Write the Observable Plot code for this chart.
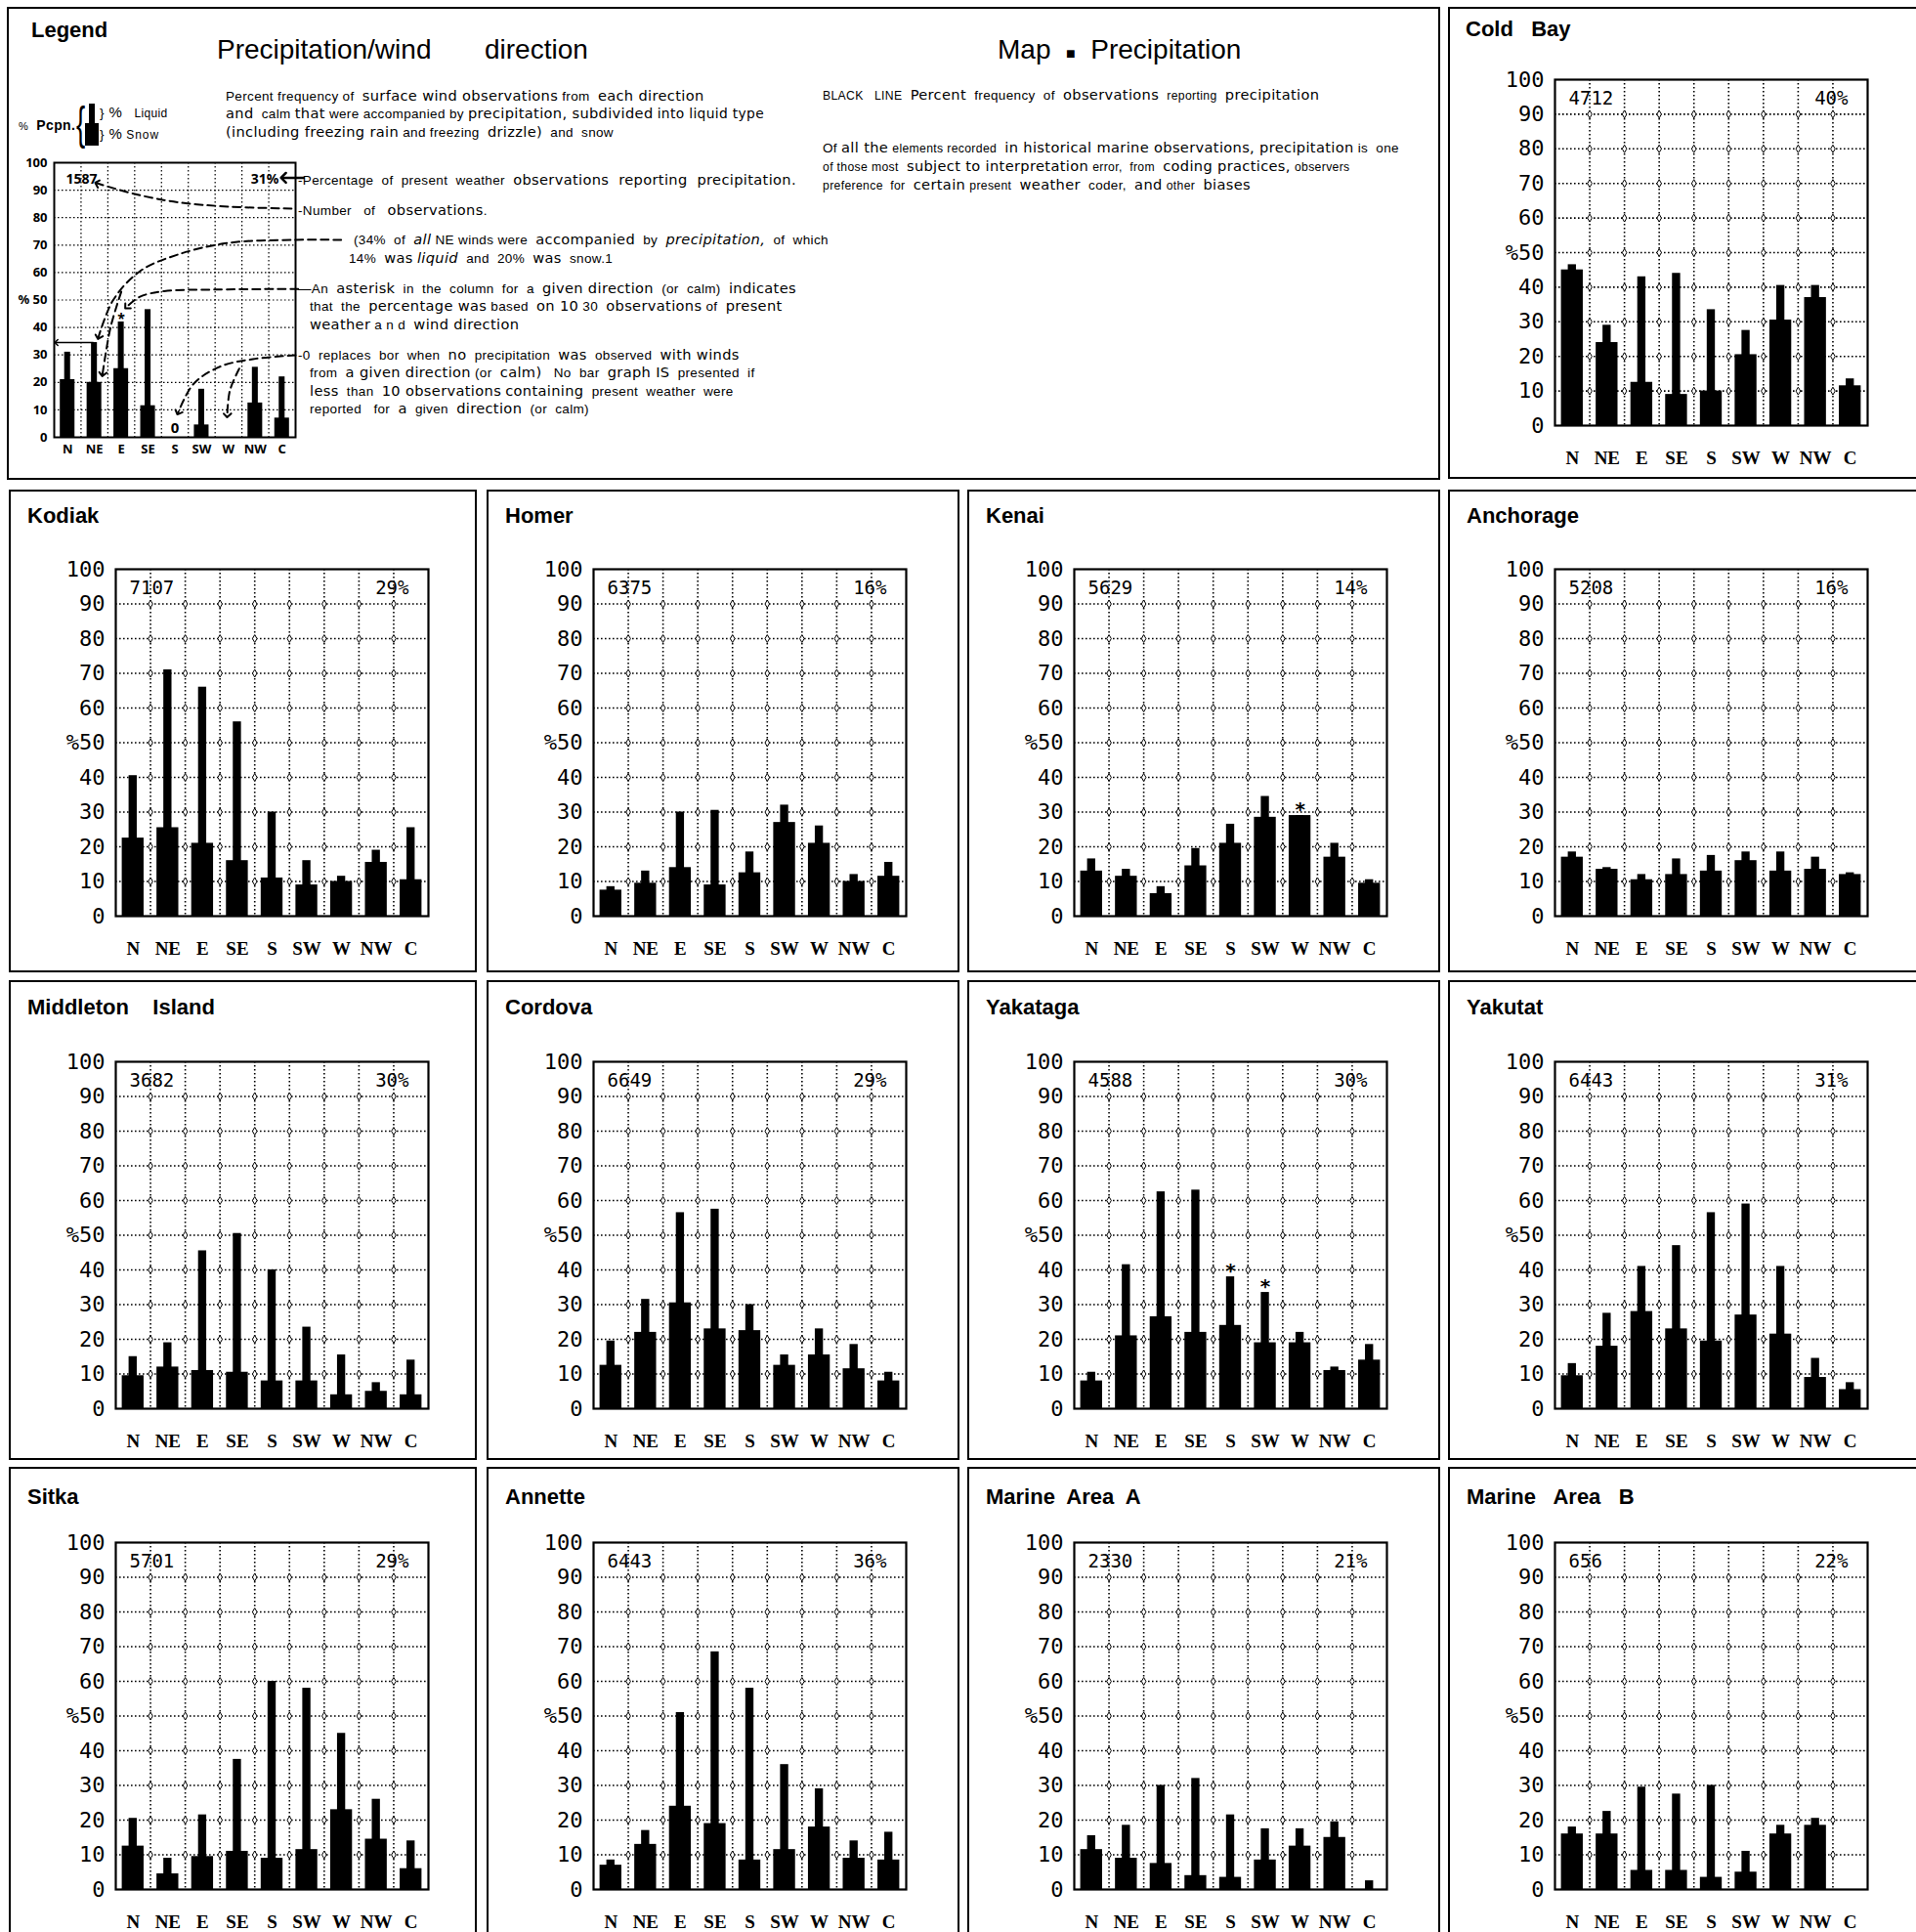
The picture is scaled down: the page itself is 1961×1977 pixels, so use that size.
<!DOCTYPE html>
<html><head><meta charset="utf-8">
<script src="https://cdn.jsdelivr.net/npm/d3@7"></script>
<script src="https://cdn.jsdelivr.net/npm/@observablehq/plot@0.6"></script>
<style>
html,body{margin:0;padding:0;background:#fff;}
#page{position:relative;width:1961px;height:1977px;overflow:hidden;background:#fff;font-family:"Liberation Sans",Arial,sans-serif;color:#000;}
.box{position:absolute;box-sizing:border-box;border:2px solid #000;}
.title{position:absolute;font-weight:bold;font-size:22px;white-space:pre;line-height:24px;}
.chart{position:absolute;}
.t{position:absolute;white-space:pre;line-height:16px;font-size:13.5px;letter-spacing:0.35px;}
.b{font-family:"DejaVu Sans","Liberation Sans",sans-serif;font-size:14.6px;}
.xs{font-size:12.2px;}
.i{font-style:italic;}
</style></head><body><div id="page"></div>
<script>
// ---------- data ----------
const directions = ["N","NE","E","SE","S","SW","W","NW","C"];
const yTicks = [0,10,20,30,40,50,60,70,80,90,100];

// legend example (snow = thick part, total = top of thin part)
const legendSnow  = [21, 20, 25, 11.5, null, 4.5, null, 12.5, 7];
const legendTotal = [31, 34.5, 42, 46.5, null, 17.5, null, 25.5, 22];
const legendZeroDirs = ["S"];
const legendStarDirs = ["E"];
const legendCount = "1587";
const legendPct = "31%";

const coldBaySnow    = [45, 24, 12.5, 9, 10, 20.5, 30.5, 37, 11.5];
const coldBayTotal   = [46.5, 29, 43, 44, 33.5, 27.5, 40.5, 40.5, 13.5];
const kodiakSnow     = [22.5, 25.5, 21, 16, 11, 9, 10, 15.5, 10.5];
const kodiakTotal    = [40.5, 71, 66, 56, 30, 16, 11.5, 19, 25.5];
const homerSnow      = [7.5, 9.5, 14, 9, 12.5, 27, 21, 10, 11.5];
const homerTotal     = [8.5, 13, 30, 30.5, 18.5, 32, 26, 12, 15.5];
const kenaiSnow      = [13, 11.5, 6.5, 14.5, 21, 28.5, 29, 17, 9.5];
const kenaiTotal     = [16.5, 13.5, 8.5, 19.5, 26.5, 34.5, 29, 21, 10.5];
const anchorageSnow  = [17, 13.5, 10.5, 12, 13, 16, 13, 13.5, 12];
const anchorageTotal = [18.5, 14, 12, 16.5, 17.5, 18.5, 18.5, 17, 12.5];
const middletonSnow  = [9.5, 12, 11, 10.5, 8, 8, 4, 5, 4];
const middletonTotal = [15, 19, 45.5, 50.5, 40, 23.5, 15.5, 7.5, 14];
const cordovaSnow    = [12.5, 22, 30.5, 23, 22.5, 12.5, 15.5, 11.5, 8];
const cordovaTotal   = [19.5, 31.5, 56.5, 57.5, 30, 15.5, 23, 18.5, 10.5];
const yakatagaSnow   = [8, 21, 26.5, 22, 24, 19, 19, 11, 14];
const yakatagaTotal  = [10.5, 41.5, 62.5, 63, 38, 33.5, 22, 12, 18.5];
const yakutatSnow    = [9.5, 18, 28, 23, 19.5, 27, 21.5, 9, 5.5];
const yakutatTotal   = [13, 27.5, 41, 47, 56.5, 59, 41, 14.5, 7.5];
const sitkaSnow      = [12.5, 4.5, 9.5, 11, 9, 11.5, 23, 14.5, 6];
const sitkaTotal     = [20.5, 9, 21.5, 37.5, 60, 58, 45, 26, 14];
const annetteSnow    = [7, 13, 24, 19, 8.5, 11.5, 18, 9, 8.5];
const annetteTotal   = [8.5, 17, 51, 68.5, 58, 36, 29, 14, 16.5];
const marineASnow    = [11.5, 9, 7.5, 4, 3.5, 8.5, 12.5, 15, 0];
const marineATotal   = [15.5, 18.5, 30, 32, 21.5, 17.5, 17.5, 19.5, 2.5];
const marineBSnow    = [16, 16, 5.5, 5.5, 3.5, 5, 16, 18.5, null];
const marineBTotal   = [18, 22.5, 29.5, 27.5, 30, 11, 18.5, 20.5, null];

const stationNames = ["Cold   Bay","Kodiak","Homer","Kenai","Anchorage","Middleton    Island","Cordova","Yakataga","Yakutat","Sitka","Annette","Marine  Area  A","Marine   Area   B"];
const obsCounts  = ["4712","7107","6375","5629","5208","3682","6649","4588","6443","5701","6443","2330","656"];
const precipPct  = ["40%","29%","16%","14%","16%","30%","29%","30%","31%","29%","36%","21%","22%"];
const starDirs   = [[],[],[],["W"],[],[],[],["S","SW"],[],[],[],[],[]];
const snowSeries  = [coldBaySnow,kodiakSnow,homerSnow,kenaiSnow,anchorageSnow,middletonSnow,cordovaSnow,yakatagaSnow,yakutatSnow,sitkaSnow,annetteSnow,marineASnow,marineBSnow];
const totalSeries = [coldBayTotal,kodiakTotal,homerTotal,kenaiTotal,anchorageTotal,middletonTotal,cordovaTotal,yakatagaTotal,yakutatTotal,sitkaTotal,annetteTotal,marineATotal,marineBTotal];

// legend annotation leader lines (in chart data units: x = direction slot, y = percent)
const noteNumber = [[8.85,83.3],[6.5,84.0],[4.6,85.6],[3.0,88.6],[1.6,92.5]];
const noteShare  = [[10.7,71.9],[9.0,71.9],[6.5,70.8],[4.6,66.5],[3.2,60.5],[2.2,50],[1.65,36.5]];
const noteShare2 = [[2.5,53],[2.1,40],[1.8,23]];
const noteStar   = [[9.1,54],[6.0,53.8],[4.1,53.2],[3.2,51.2],[2.7,47.5]];
const noteZero   = [[9.0,29.9],[7.5,28.6],[6.2,25.8],[5.2,19.5],[4.62,9]];
const noteZero2  = [[6.9,25],[6.55,17],[6.45,8]];
const noteBox    = [[1.45,34.5],[0.08,34.5]];
const notePct    = [[9.3,94.5],[8.55,94.5]];

// ---------- layout helpers ----------
const page = document.getElementById("page");
function box(l,t,r,b,extra){const d=document.createElement("div");d.className="box";d.style.left=l+"px";d.style.top=t+"px";d.style.width=(r-l)+"px";d.style.height=(b-t)+"px";if(extra)Object.assign(d.style,extra);page.appendChild(d);}
function title(txt,l,cy){const d=document.createElement("div");d.className="title";d.textContent=txt;d.style.left=l+"px";d.style.top=(cy-12)+"px";page.appendChild(d);}
function line(html,l,cy,style){const d=document.createElement("div");d.className="t";d.innerHTML=html;d.style.left=l+"px";d.style.top=(cy-8)+"px";if(style)Object.assign(d.style,style);page.appendChild(d);return d;}
function place(svg,l,t){const w=document.createElement("div");w.className="chart";w.style.left=l+"px";w.style.top=t+"px";w.appendChild(svg);page.appendChild(w);}

const dotted = {stroke:"#000", strokeWidth:1.6, strokeDasharray:"1.6,2.4"};
function gridPts(){const g=[];for(let gx=1;gx<9;gx++)for(let gy=10;gy<100;gy+=10)g.push({gx,gy});return g;}

function stationChart(k, frameH){
  const rows = directions.map((dir,i)=>({dir,i,snow:snowSeries[k][i],total:totalSeries[k][i],star:starDirs[k].includes(dir)}));
  return Plot.plot({
    width:469, height:20+frameH+50, marginLeft:109, marginRight:40, marginTop:20, marginBottom:50,
    x:{domain:[0,9], axis:null}, y:{domain:[0,100], axis:null},
    style:{background:"transparent", overflow:"visible"},
    marks:[
      Plot.ruleY(yTicks.filter(v=>v>0&&v<100), dotted),
      Plot.ruleX(d3.range(1,9), dotted),
      Plot.dot(gridPts(), {x:"gx", y:"gy", symbol:"diamond", r:2.4, fill:"#fff", stroke:"#000", strokeWidth:1}),
      Plot.rectY(rows.filter(d=>d.total!=null), {x1:"i", x2:d=>d.i+1, y:"total", insetLeft:13.6, insetRight:13.6, fill:"#000"}),
      Plot.rectY(rows.filter(d=>d.snow!=null&&d.snow>0), {x1:"i", x2:d=>d.i+1, y:"snow", insetLeft:6.6, insetRight:6.6, fill:"#000"}),
      Plot.text(rows.filter(d=>d.star), {x:d=>d.i+0.5, y:"total", dy:-6, text:()=>"*", fontSize:20, fontWeight:"bold", fontFamily:"DejaVu Sans"}),
      Plot.frame({stroke:"#000", strokeWidth:2.2}),
      Plot.text(yTicks, {x:()=>0, y:d=>d, text:d=>d===50?"%50":String(d), textAnchor:"end", dx:-11, fontSize:22, fontFamily:"DejaVu Sans Mono"}),
      Plot.text(rows, {x:d=>d.i+0.5, y:()=>0, text:"dir", dy:33, fontSize:19, fontWeight:"bold", fontFamily:"Liberation Serif"}),
      Plot.text([obsCounts[k]], {x:()=>0, y:()=>100, text:d=>d, textAnchor:"start", dx:14, dy:19, fontSize:19, fontFamily:"DejaVu Sans Mono"}),
      Plot.text([precipPct[k]], {x:()=>9, y:()=>100, text:d=>d, textAnchor:"end", dx:-20, dy:19, fontSize:19, fontFamily:"DejaVu Sans Mono"})
    ]
  });
}

function legendChart(){
  const rows = directions.map((dir,i)=>({dir,i,snow:legendSnow[i],total:legendTotal[i]}));
  const lead = {x:d=>d[0], y:d=>d[1], curve:"catmull-rom", stroke:"#000", strokeWidth:2, strokeDasharray:"8,5"};
  return Plot.plot({
    width:360, height:20+281+25, marginLeft:48, marginRight:65, marginTop:20, marginBottom:25,
    x:{domain:[0,9], axis:null}, y:{domain:[0,100], axis:null},
    style:{background:"transparent", overflow:"visible"},
    marks:[
      Plot.ruleY(yTicks.filter(v=>v>0&&v<100), {x1:0, x2:9, stroke:"#000", strokeWidth:1.2, strokeDasharray:"1.5,2.5"}),
      Plot.ruleX(d3.range(1,9), {stroke:"#000", strokeWidth:1.2, strokeDasharray:"1.5,2.5"}),
      Plot.rectY(rows.filter(d=>d.total!=null), {x1:"i", x2:d=>d.i+1, y:"total", insetLeft:10.7, insetRight:10.7, fill:"#000"}),
      Plot.rectY(rows.filter(d=>d.snow!=null), {x1:"i", x2:d=>d.i+1, y:"snow", insetLeft:6.2, insetRight:6.2, fill:"#000"}),
      Plot.text(rows.filter(d=>legendZeroDirs.includes(d.dir)), {x:d=>d.i+0.5, y:()=>0, dy:-9, text:()=>"0", fontSize:15, fontWeight:"bold"}),
      Plot.text(rows.filter(d=>legendStarDirs.includes(d.dir)), {x:d=>d.i+0.5, y:"total", dy:-3, text:()=>"*", fontSize:14, fontWeight:"bold"}),
      Plot.line(noteNumber, {...lead, markerEnd:"arrow"}),
      Plot.line(noteShare, {...lead, markerEnd:"arrow"}),
      Plot.line(noteShare2, {...lead, markerEnd:"arrow"}),
      Plot.line(noteStar, {...lead, markerEnd:"arrow"}),
      Plot.line(noteZero, {...lead, markerEnd:"arrow"}),
      Plot.line(noteZero2, {...lead, markerEnd:"arrow"}),
      Plot.line(noteBox, {x:d=>d[0], y:d=>d[1], stroke:"#000", strokeWidth:1.5, markerEnd:"arrow"}),
      Plot.line(notePct, {x:d=>d[0], y:d=>d[1], stroke:"#000", strokeWidth:2.5, markerEnd:"arrow"}),
      Plot.frame({stroke:"#000", strokeWidth:2}),
      Plot.text(yTicks, {x:()=>0, y:d=>d, text:d=>d===50?"% 50":String(d), textAnchor:"end", dx:-7, fontSize:13, fontWeight:"bold"}),
      Plot.text(rows, {x:d=>d.i+0.5, y:()=>0, text:"dir", dy:12, fontSize:13, fontWeight:"bold"}),
      Plot.text([legendCount], {x:()=>0, y:()=>100, text:d=>d, textAnchor:"start", dx:12, dy:17, fontSize:14, fontWeight:"bold"}),
      Plot.text([legendPct], {x:()=>9, y:()=>100, text:d=>d, textAnchor:"end", dx:-17, dy:17, fontSize:14, fontWeight:"bold"})
    ]
  });
}

// ---------- panels ----------
box(7,7,1474,491);
box(1482,7,1961,490,{borderRight:"none"});
const cols = [[9,488],[498,982],[990,1474],[1482,1961]];
const rowBands = [[501,995],[1003,1494],[1501,1990]];
const frameOff = [81,83,77];
const titleOff = [27,28,31];
rowBands.forEach(([t,b],r)=>cols.forEach(([l,rr],c)=>box(l,t,rr,b,c===3?{borderRight:"none"}:{})));

title(stationNames[0],1500,30);
place(stationChart(0,354),1482,81-20);
for(let r=0;r<3;r++){
  for(let c=0;c<4;c++){
    const k = 1 + r*4 + c;
    const [l] = cols[c]; const [t] = rowBands[r];
    title(stationNames[k], l+19, t+titleOff[r]);
    place(stationChart(k,355), l, t+frameOff[r]-20);
  }
}

// ---------- legend panel ----------
title("Legend",32,31);
line("Precipitation/wind",222,51,{fontSize:"28px",lineHeight:"32px",top:"35px",letterSpacing:"0"});
line("direction",496,51,{fontSize:"28px",lineHeight:"32px",top:"35px",letterSpacing:"0"});
line("Map  <span style='font-size:16px'>■</span>  Precipitation",1021,51,{fontSize:"28px",lineHeight:"32px",top:"35px",letterSpacing:"0"});

line('Percent frequency of  <span class="b">surface wind observations</span> from  <span class="b">each direction</span>',231,98);
line('<span class="b">and</span>  calm <span class="b">that</span> were accompanied by <span class="b">precipitation, subdivided</span> <span class="b" style="font-size:13.8px">into liquid type</span>',231,116);
line('<span class="b">(including freezing rain</span> and freezing  <span class="b">drizzle)</span>  and  snow',231,135);

line('<span class="xs">BLACK   LINE</span>  <span class="b">Percent</span>  frequency  of  <span class="b">observations</span>  <span class="xs">reporting</span>  <span class="b">precipitation</span>',842,97);
line('Of <span class="b">all the</span> <span class="xs">elements recorded</span>  <span class="b">in historical marine observations, precipitation</span> is  one',842,151);
line('<span class="xs">of those most</span>  <span class="b">subject to interpretation</span> <span class="xs">error,  from</span>  <span class="b">coding practices,</span> <span class="xs">observers</span>',842,170);
line('<span class="xs">preference  for</span>  <span class="b">certain</span> <span class="xs">present</span>  <span class="b">weather</span>  coder,  <span class="b">and</span> <span class="xs">other</span>  <span class="b">biases</span>',842,189);

line('-Percentage  of  present  weather  <span class="b">observations  reporting  precipitation.</span>',305,184);
line('-Number   of   <span class="b">observations</span>.',305,215);
line('(34%  of  <span class="b i">all</span> NE winds were  <span class="b">accompanied</span>  by  <span class="b i">precipitation,</span>  of  which',362,245);
line('14%  <span class="b">was</span> <span class="b i">liquid</span>  and  20%  <span class="b">was</span>  snow.1',357,264);
line('—An  <span class="b">asterisk</span>  in  the  column  for  a  <span class="b">given direction</span>  (or  calm)  <span class="b">indicates</span>',305,295);
line('that  the  <span class="b">percentage was</span> based  <span class="b">on 10</span> 30  <span class="b">observations</span> of  <span class="b">present</span>',317,313);
line('<span class="b">weather</span> a n d  <span class="b">wind direction</span>',317,332);
line('-0  replaces  bor  when  <span class="b">no</span>  precipitation  <span class="b">was</span>  observed  <span class="b">with winds</span>',305,363);
line('from  <span class="b">a given direction</span> (or  <span class="b">calm)</span>   No  bar  <span class="b">graph IS</span>  presented  if',317,381);
line('<span class="b">less</span>  than  <span class="b">10 observations</span> <span class="b">containing</span>  present  weather  were',317,400);
line('reported   for  <span class="b">a</span>  given  <span class="b">direction</span>  (or  calm)',317,418);

// legend key symbol
line('<span style="font-size:11px">%</span>  <b style="font-size:14px">Pcpn.</b>',19,128);
line('{',78,127,{fontSize:"46px",lineHeight:"50px",top:"101px",fontWeight:"200",transform:"scaleX(0.6)",transformOrigin:"left center"});
(function(){
  const thin=document.createElement("div");Object.assign(thin.style,{position:"absolute",left:"91px",top:"106px",width:"6px",height:"21px",background:"#000"});page.appendChild(thin);
  const thick=document.createElement("div");Object.assign(thick.style,{position:"absolute",left:"87px",top:"126px",width:"14px",height:"23px",background:"#000"});page.appendChild(thick);
})();
line('}<span style="font-size:15px"> %</span>   <span style="font-size:12px">Liquid</span>',102,115);
line('}<span style="font-size:15px"> %</span> <span style="font-size:12px;letter-spacing:1px">Snow</span>',102,137);

place(legendChart(),7,146);
</script>
</body></html>
